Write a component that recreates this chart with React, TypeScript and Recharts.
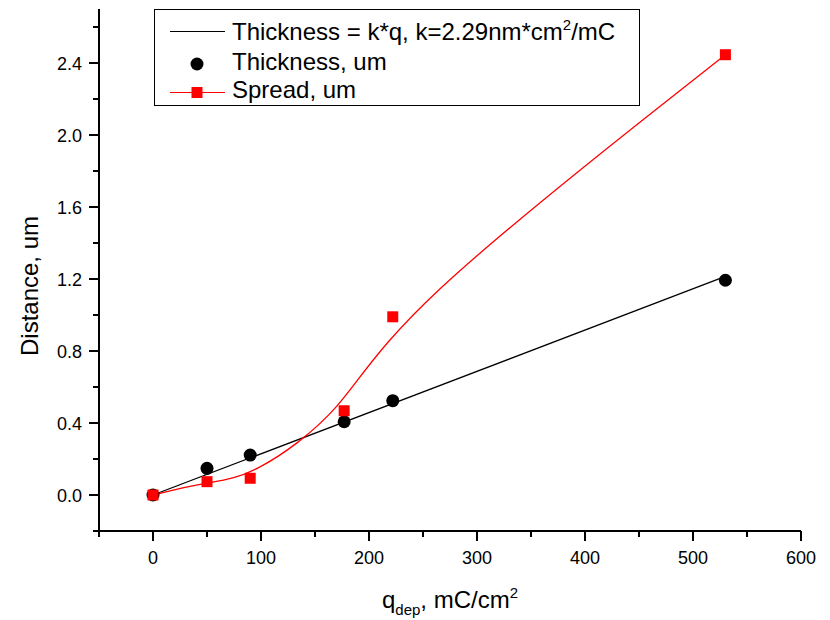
import React from "react"
import { ComposedChart, Line, Scatter, XAxis, YAxis, Label } from "recharts"

// values (q in mC/cm2, distances in um)
const thicknessQ = [0, 50, 90, 177, 222, 530]
const thicknessVals = [0, 0.148, 0.222, 0.407, 0.524, 1.193]
const spreadQ = [0, 50, 90, 177, 222, 530]
const spreadVals = [0, 0.074, 0.093, 0.468, 0.99, 2.446]
// fit line Thickness = k*q drawn between its two end points
const fitQ = [0, 530]
const fitVals = [0, 1.214]

const xTicks = [-50, 0, 50, 100, 150, 200, 250, 300, 350, 400, 450, 500, 550, 600]
const yTicks = [-0.2, 0, 0.2, 0.4, 0.6, 0.8, 1.0, 1.2, 1.4, 1.6, 1.8, 2.0, 2.2, 2.4, 2.6]

const thickness = thicknessQ.map((q, i) => ({ q, v: thicknessVals[i] }))
const spread = spreadQ.map((q, i) => ({ q, v: spreadVals[i] }))
const fit = fitQ.map((q, i) => ({ q, v: fitVals[i] }))

const FONT = "'Liberation Sans', Arial, sans-serif"

const XTick = (props: any) => {
  const { x, y, payload } = props
  const v = payload.value
  const major = v % 100 === 0
  return (
    <g>
      <line x1={x} x2={x} y1={y} y2={y + (major ? 10 : 6)} stroke="#000" strokeWidth={2} />
      {major && (
        <text x={x} y={y + 33} textAnchor="middle" fontSize={18} fill="#000" fontFamily={FONT}>
          {v}
        </text>
      )}
    </g>
  )
}

const YTick = (props: any) => {
  const { x, y, payload } = props
  const v = payload.value
  const r = v / 0.4
  const major = v >= 0 && Math.abs(r - Math.round(r)) < 1e-6
  return (
    <g>
      <line x1={x} x2={x - (major ? 10 : 6)} y1={y} y2={y} stroke="#000" strokeWidth={2} />
      {major && (
        <text x={x - 17} y={y + 6.5} textAnchor="end" fontSize={18} fill="#000" fontFamily={FONT}>
          {v.toFixed(1)}
        </text>
      )}
    </g>
  )
}

const Circle = (p: any) => <circle cx={p.cx} cy={p.cy} r={6.5} fill="#000" />

const Square = (p: any) => {
  if (p.cx == null || p.cy == null) return <g key={p.key} />
  return <rect key={p.key} x={p.cx - 5.5} y={p.cy - 5.5} width={11} height={11} fill="#ff0000" />
}

const Legend = () => (
  <svg
    width={486}
    height={97}
    style={{ position: "absolute", left: 154, top: 9, fontFamily: FONT }}
  >
    <rect x={0.5} y={0.5} width={485} height={96} fill="#fff" stroke="#000" strokeWidth={1} />
    <line x1={16} x2={71} y1={22.5} y2={22.5} stroke="#000" strokeWidth={1} />
    <text x={78} y={31} fontSize={24} fill="#000">
      Thickness = k*q, k=2.29nm*cm
      <tspan fontSize={15} dy={-10}>2</tspan>
      <tspan fontSize={24} dy={10}>/mC</tspan>
    </text>
    <circle cx={43} cy={55} r={6.5} fill="#000" />
    <text x={78} y={60.5} fontSize={24} fill="#000">Thickness, um</text>
    <line x1={16} x2={71} y1={83.5} y2={83.5} stroke="#ff0000" strokeWidth={1} />
    <rect x={37.5} y={78} width={11} height={11} fill="#ff0000" />
    <text x={78} y={89} fontSize={24} fill="#000">Spread, um</text>
  </svg>
)

export default function App() {
  return (
    <div style={{ position: "absolute", left: 0, top: 0, width: 830, height: 620, background: "#fff" }}>
      <ComposedChart width={830} height={620} margin={{ top: 9, right: 29, left: 0, bottom: 0 }}>
        <XAxis
          dataKey="q"
          type="number"
          domain={[-50, 600]}
          ticks={xTicks}
          interval={0}
          allowDataOverflow
          height={89}
          tickSize={0}
          tickMargin={0}
          tickLine={false}
          tick={<XTick />}
          axisLine={{ stroke: "#000", strokeWidth: 2 }}
        >
          <Label
            content={() => (
              <text x={450} y={608} textAnchor="middle" fontSize={24} fill="#000" fontFamily={FONT}>
                q
                <tspan fontSize={15} dy={7}>dep</tspan>
                <tspan fontSize={24} dy={-7}>, mC/cm</tspan>
                <tspan fontSize={15} dy={-10}>2</tspan>
              </text>
            )}
          />
        </XAxis>
        <YAxis
          type="number"
          domain={[-0.2, 2.7]}
          ticks={yTicks}
          interval={0}
          allowDataOverflow
          width={99}
          tickSize={0}
          tickMargin={0}
          tickLine={false}
          tick={<YTick />}
          axisLine={{ stroke: "#000", strokeWidth: 2 }}
        >
          <Label
            content={() => (
              <text
                x={38}
                y={286}
                textAnchor="middle"
                fontSize={24}
                fill="#000"
                fontFamily={FONT}
                transform="rotate(-90 38 286)"
              >
                Distance, um
              </text>
            )}
          />
        </YAxis>
        <Line
          data={fit}
          dataKey="v"
          type="linear"
          stroke="#000"
          strokeWidth={1.3}
          dot={false}
          activeDot={false}
          isAnimationActive={false}
        />
        <Scatter data={thickness} dataKey="v" shape={<Circle />} isAnimationActive={false} />
        <Line
          data={spread}
          dataKey="v"
          type="basis"
          stroke="#ff0000"
          strokeWidth={1.3}
          dot={Square}
          activeDot={false}
          isAnimationActive={false}
        />
      </ComposedChart>
      <Legend />
    </div>
  )
}
